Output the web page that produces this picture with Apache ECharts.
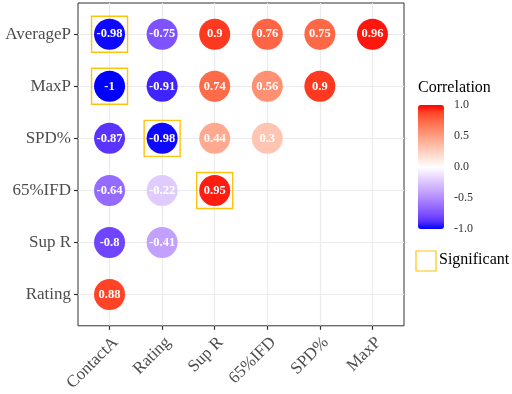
<!DOCTYPE html>
<html>
<head>
<meta charset="utf-8">
<script src="https://cdn.jsdelivr.net/npm/echarts@6/dist/echarts.min.js"></script>
<style>
  html, body { margin: 0; padding: 0; background: #fff; }
  #chart { width: 512px; height: 394px; }
</style>
</head>
<body>
<div id="chart"></div>
<script>
// rows top to bottom, columns left to right
const rowNames = ['AverageP', 'MaxP', 'SPD%', '65%IFD', 'Sup R', 'Rating'];
const colNames = ['ContactA', 'Rating', 'Sup R', '65%IFD', 'SPD%', 'MaxP'];

const averagePRow = [-0.98, -0.75, 0.9, 0.76, 0.75, 0.96];
const maxPRow = [-1, -0.91, 0.74, 0.56, 0.9];
const spdRow = [-0.87, -0.98, 0.44, 0.3];
const ifdRow = [-0.64, -0.22, 0.95];
const supRRow = [-0.8, -0.41];
const ratingRow = [0.88];

// significant cells: [row, column]
const significantCells = [
  ['AverageP', 'ContactA'],
  ['MaxP', 'ContactA'],
  ['SPD%', 'Rating'],
  ['65%IFD', 'Sup R'],
];

const FONT = '"Liberation Serif", "DejaVu Serif", serif';

const rowValues = [averagePRow, maxPRow, spdRow, ifdRow, supRRow, ratingRow];
const cells = [];
rowValues.forEach((vals, r) => {
  vals.forEach((v, c) => cells.push([c, r, v]));
});
const sigData = significantCells.map(([r, c]) => [colNames.indexOf(c), rowNames.indexOf(r)]);
const colIdx = colNames.map((_, i) => i);
const rowIdx = rowNames.map((_, i) => i);

// ggplot-like Lab gradient blue - white - red, sampled every 0.125
const gradient = [
  '#0000FF', '#5932FF', '#7E52FF', '#986EFF', '#B38BFF', '#C8A8FF', '#DCC4FF', '#EEE2FF',
  '#FFFFFF',
  '#FFE7DF', '#FFCFBF', '#FFB7A0', '#FF9E81', '#FF8364', '#FF6846', '#FF4628', '#FF0000',
];

const chart = echarts.init(document.getElementById('chart'));

const tickStyle = { show: true, length: 4, lineStyle: { color: '#333', width: 1.2 } };
const gridLine = { show: true, lineStyle: { color: '#EBEBEB', width: 1.2 } };

const option = {
  animation: false,
  title: [
    {
      text: 'Correlation',
      left: 418,
      top: 80,
      padding: 0,
      textStyle: { fontFamily: FONT, fontSize: 16, fontWeight: 'normal', color: '#000' },
    },
    {
      text: 'Significant',
      left: 439,
      top: 252,
      padding: 0,
      textStyle: { fontFamily: FONT, fontSize: 16, fontWeight: 'normal', color: '#000' },
    },
  ],
  grid: [
    // main panel
    { left: 78, top: 3, width: 326, height: 327, show: true, borderColor: '#333', borderWidth: 1, backgroundColor: 'transparent' },
    // colour bar labels
    { left: 418, top: 105, width: 26, height: 124 },
    // significant key
    { left: 416, top: 251, width: 20, height: 20, show: true, borderColor: '#FFC20E', borderWidth: 1.2, backgroundColor: 'transparent' },
  ],
  xAxis: [
    {
      type: 'value',
      gridIndex: 0,
      min: -0.6,
      max: colNames.length - 0.4,
      axisLine: { show: false, onZero: false },
      axisTick: Object.assign({ customValues: colIdx }, tickStyle),
      axisLabel: {
        customValues: colIdx,
        rotate: 45,
        margin: 8,
        verticalAlign: 'top',
        fontFamily: FONT,
        fontSize: 17,
        color: '#4D4D4D',
        formatter: (v) => colNames[Math.round(v)],
      },
      splitLine: gridLine,
    },
    { type: 'value', gridIndex: 1, show: false },
    { type: 'value', gridIndex: 2, show: false },
  ],
  yAxis: [
    {
      type: 'value',
      gridIndex: 0,
      inverse: true,
      min: -0.6,
      max: rowNames.length - 0.4,
      axisLine: { show: false, onZero: false },
      axisTick: Object.assign({ customValues: rowIdx }, tickStyle),
      axisLabel: {
        customValues: rowIdx,
        margin: 7,
        fontFamily: FONT,
        fontSize: 17,
        color: '#4D4D4D',
        formatter: (v) => rowNames[Math.round(v)],
      },
      splitLine: gridLine,
    },
    {
      type: 'value',
      gridIndex: 1,
      position: 'right',
      min: -1,
      max: 1,
      interval: 0.5,
      axisLine: { show: false },
      axisTick: { show: true, inside: true, length: 5, lineStyle: { color: '#fff', width: 1 } },
      axisLabel: {
        margin: 10,
        fontFamily: FONT,
        fontSize: 12,
        color: '#333',
        formatter: (v) => Number(v).toFixed(1),
      },
      splitLine: { show: false },
      z: 10,
    },
    { type: 'value', gridIndex: 2, show: false },
  ],
  visualMap: {
    type: 'continuous',
    min: -1,
    max: 1,
    seriesIndex: 0,
    dimension: 2,
    calculable: false,
    left: 418,
    top: 105,
    padding: 0,
    itemWidth: 26,
    itemHeight: 124,
    text: null,
    inRange: { color: gradient },
  },
  series: [
    {
      type: 'scatter',
      xAxisIndex: 0,
      yAxisIndex: 0,
      data: cells,
      symbol: 'circle',
      symbolSize: 31,
      z: 3,
      itemStyle: { opacity: 1 },
      label: {
        show: true,
        position: 'inside',
        formatter: (p) => String(p.value[2]),
        fontFamily: FONT,
        fontSize: 12.5,
        fontWeight: 'bold',
        color: '#fff',
      },
    },
    {
      type: 'scatter',
      xAxisIndex: 0,
      yAxisIndex: 0,
      data: sigData,
      symbol: 'rect',
      symbolSize: 36,
      z: 2,
      silent: true,
      itemStyle: { color: 'transparent', borderColor: '#FFC20E', borderWidth: 1.4, opacity: 1 },
    },
  ],
};

chart.setOption(option);
</script>
</body>
</html>
